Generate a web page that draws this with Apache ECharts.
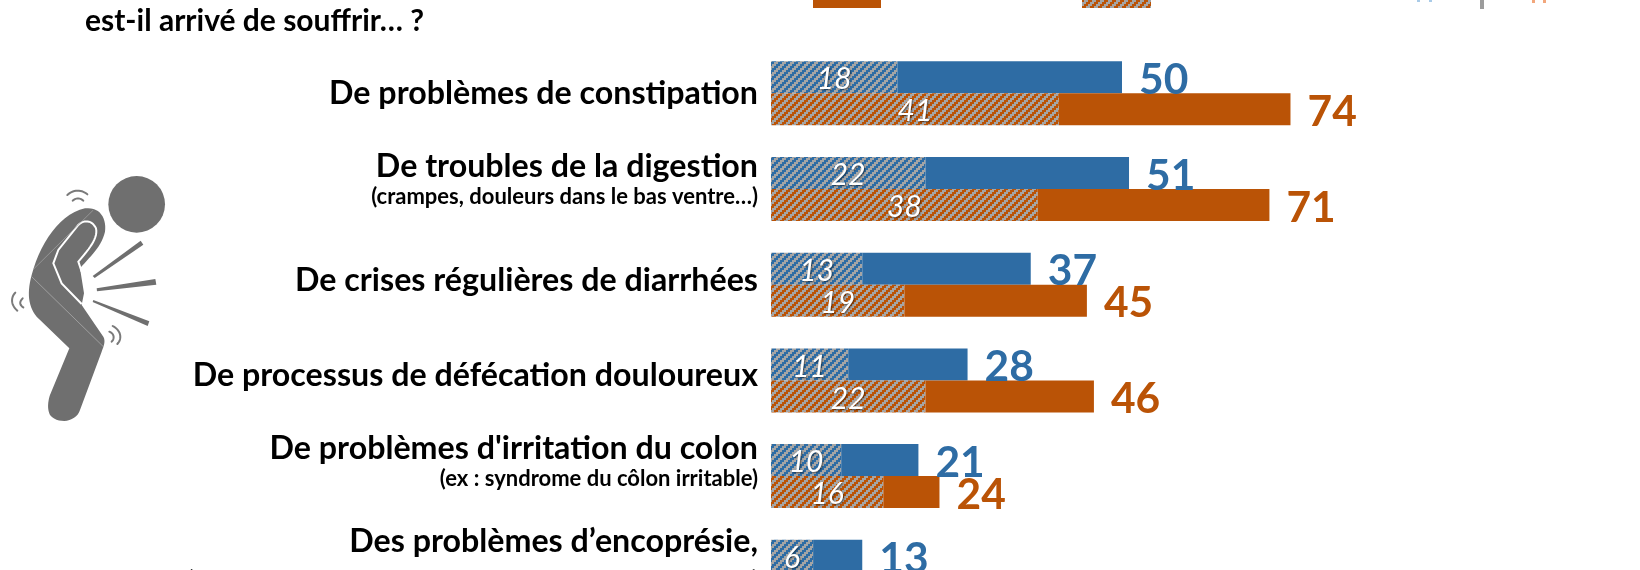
<!DOCTYPE html>
<html><head><meta charset="utf-8">
<style>html,body{margin:0;padding:0;background:#fff}#c{width:1640px;height:570px}</style>
<script src="https://cdn.jsdelivr.net/npm/echarts@6/dist/echarts.min.js"></script>
</head><body><div id="c"></div>
<script>
const categories = ["De problèmes de constipation","De troubles de la digestion","De crises régulières de diarrhées","De processus de défécation douloureux","De problèmes d'irritation du colon","Des problèmes d’encoprésie,"];
const subLabels = ["","(crampes, douleurs dans le bas ventre…)","","","(ex : syndrome du côlon irritable)","(perte involontaire de matières fécales, hors diarrhées…)"];
const blueTotals = [50,51,37,28,21,13];
const blueHatched = [18,22,13,11,10,6];
const orangeTotals = [74,71,45,46,24,null];
const orangeHatched = [41,38,19,22,16,null];
const labelShift = [0,-9,-4.5,-5,-14.5,-9.3];
const titleText = "est-il arrivé de souffrir… ?";

const BLUE='#2E6CA4', ORANGE='#BA5306', GREY='#A5A5A5', FONT='Lato, "Open Sans", sans-serif';
function hatch(col){
  const c=document.createElement('canvas');c.width=8;c.height=8;
  const g=c.getContext('2d');g.fillStyle=GREY;g.fillRect(0,0,8,8);g.fillStyle=col;
  for(let y=0;y<8;y++)for(let x=0;x<8;x++){
    if((x+2*Math.floor(y/2))%8<4)g.fillRect(x,y,1,1);
  }
  return {image:c,repeat:'repeat'};
}
const blueHatch=hatch(BLUE), orangeHatch=hatch(ORANGE);
const diff=(t,h)=>t.map((v,i)=>v==null?null:v-h[i]);

const rich={m:{fontFamily:FONT,fontWeight:700,fontSize:32.2,lineHeight:34,color:'#000',align:'right'},
            s:{fontFamily:FONT,fontWeight:700,fontSize:22,lineHeight:26,color:'#000',align:'right'},
            t:{fontFamily:FONT,fontWeight:700,fontSize:23,lineHeight:42,color:'#000',align:'right'}};
labelShift.forEach((v,i)=>{rich['g'+i]={height:Math.abs(v)*2,lineHeight:Math.abs(v)*2,fontSize:1,align:'right'};});

const hatchLabel={show:true,position:'inside',offset:[0,2.5],color:'#fff',fontFamily:FONT,fontStyle:'italic',fontWeight:400,fontSize:30,
  textShadowColor:'rgba(0,0,0,0.55)',textShadowBlur:2,textShadowOffsetX:1,textShadowOffsetY:1};
const totalLabel=(arr,col)=>({show:true,position:'right',distance:17,offset:[0,3],color:col,fontFamily:FONT,fontWeight:700,fontSize:42.5,
  formatter:p=>arr[p.dataIndex]==null?'':arr[p.dataIndex]});

function outline(d){
  const t=d.replace(/,/g,' ').match(/[MCL]|-?\d+(\.\d+)?/g);let i=0,cmd='',pts=[],cur=[0,0];
  while(i<t.length){
    if(/[MCL]/.test(t[i]))cmd=t[i++];
    if(cmd==='C'){
      const a=[+t[i],+t[i+1]],b=[+t[i+2],+t[i+3]],e=[+t[i+4],+t[i+5]];i+=6;
      for(let k=1;k<=14;k++){const u=k/14,v=1-u;
        pts.push([v*v*v*cur[0]+3*v*v*u*a[0]+3*v*u*u*b[0]+u*u*u*e[0],v*v*v*cur[1]+3*v*v*u*a[1]+3*v*u*u*b[1]+u*u*u*e[1]]);}
      cur=e;
    }else{cur=[+t[i],+t[i+1]];i+=2;pts.push(cur);}
  }
  return pts;
}
const ray=pts=>({type:'polygon',shape:{points:pts},style:{fill:'#6F6F6F'}});
const arc=d=>({type:'polyline',shape:{points:outline(d)},style:{fill:null,stroke:'#7a7a7a',lineWidth:6,lineCap:'round'}});
const icon={type:'group',x:0,y:160,scaleX:1/3,scaleY:1/3,children:[
  {type:'circle',shape:{cx:410,cy:133,r:85},style:{fill:'#6F6F6F'}},
  {type:'polygon',shape:{points:outline('M95,345 C120,250 180,160 255,145 C300,140 320,175 315,215 C305,260 270,290 240,325 L252,400 L245,435 L310,530 C318,545 310,560 305,575 L240,750 C230,785 175,795 150,765 C140,745 145,720 150,705 L208,565 L110,470 C85,440 80,400 95,345')},style:{fill:'#6F6F6F'}},
  {type:'polyline',shape:{points:outline('M245,432 L185,370 L160,310 L175,270 L235,195 C250,180 275,178 288,205 C295,235 265,270 235,305 L245,335')},style:{fill:null,stroke:'#fff',lineWidth:6}},
  {type:'line',shape:{x1:95,y1:350,x2:310,y2:560},style:{stroke:'#b5b5b5',lineWidth:2}},
  {type:'line',shape:{x1:100,y1:328,x2:280,y2:150},style:{stroke:'#a8a8a8',lineWidth:2}},
  ray([[278,348],[422,242],[430,254],[284,354]]),
  ray([[290,385],[466,357],[469,374],[291,394]]),
  ray([[280,420],[448,484],[443,498],[278,426]]),
  arc('M202,105 C220,88 245,88 262,103'), arc('M218,122 C228,113 240,113 250,122'),
  arc('M46,398 C32,412 32,435 52,452'), arc('M68,415 C58,425 58,435 70,442'),
  arc('M338,498 C362,510 368,535 352,552'), arc('M328,515 C342,520 345,535 335,545')
]};

const chart=echarts.init(document.getElementById('c'),null,{renderer:'canvas'});
chart.setOption({
  animation:false,backgroundColor:'#fff',
  title:{text:titleText,left:85,top:6,padding:0,textStyle:{fontFamily:FONT,fontWeight:700,fontSize:30,color:'#000',lineHeight:30}},
  grid:{left:771,top:45.45,width:702,height:574.2,containLabel:false,outerBoundsMode:'none'},
  xAxis:{type:'value',min:0,max:100,show:false},
  yAxis:{type:'category',inverse:true,data:categories,axisLine:{show:false},axisTick:{show:false},splitLine:{show:false},
    axisLabel:{interval:0,margin:13,align:'right',hideOverlap:false,rich,
      formatter:(v,i)=>{
        const sub=subLabels[i];
        return '{m|'+v+'}'+(sub?(i===5?'\n{t|':'\n{s|')+sub+'}':'')+(labelShift[i]?'\n{g'+i+'|}':'');
      }}},
  series:[
    {name:'Bleu hachuré',type:'bar',stack:'b',barWidth:32,barGap:'0%',data:blueHatched,itemStyle:{color:blueHatch},label:hatchLabel},
    {name:'Bleu',type:'bar',stack:'b',barWidth:32,barGap:'0%',data:diff(blueTotals,blueHatched),itemStyle:{color:BLUE},label:totalLabel(blueTotals,BLUE)},
    {name:'Orange hachuré',type:'bar',stack:'o',barWidth:32,barGap:'0%',data:orangeHatched,itemStyle:{color:orangeHatch},label:hatchLabel},
    {name:'Orange',type:'bar',stack:'o',barWidth:32,barGap:'0%',data:diff(orangeTotals,orangeHatched),itemStyle:{color:ORANGE},label:totalLabel(orangeTotals,ORANGE)}
  ],
  graphic:[icon,
    {type:'rect',shape:{x:813,y:0,width:68,height:8},style:{fill:ORANGE}},
    {type:'rect',shape:{x:1082,y:0,width:69,height:8},style:{fill:orangeHatch}},
    {type:'rect',shape:{x:1480,y:0,width:4,height:9},style:{fill:'#9c9c9c'}},
    {type:'rect',shape:{x:1417,y:0,width:3,height:2},style:{fill:'#A9CBE8'}},
    {type:'rect',shape:{x:1429,y:0,width:3,height:2},style:{fill:'#A9CBE8'}},
    {type:'rect',shape:{x:1532,y:0,width:3,height:3},style:{fill:'#F2A77C'}},
    {type:'rect',shape:{x:1543,y:0,width:3,height:3},style:{fill:'#F2A77C'}}
  ]
});
</script></body></html>
